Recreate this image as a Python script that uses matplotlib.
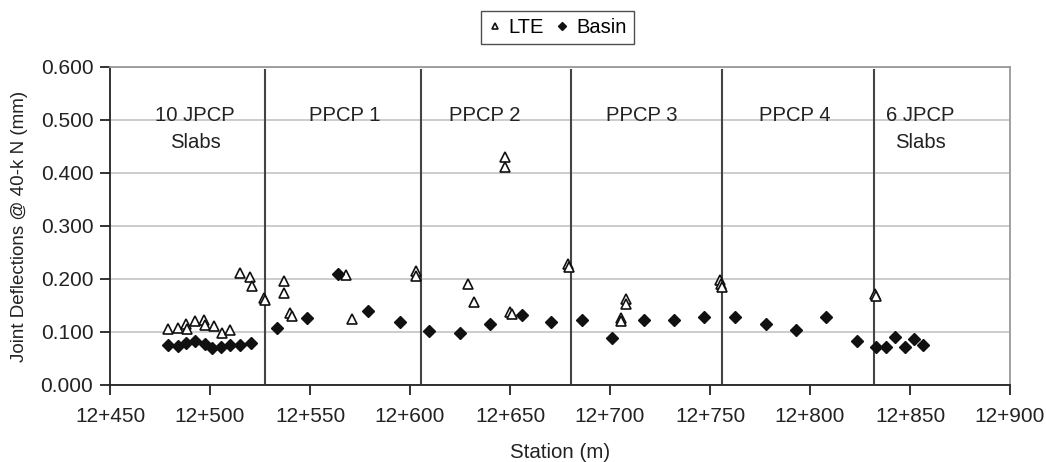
import matplotlib.pyplot as plt
import numpy as np

plt.rcParams['font.family'] = ['Liberation Sans', 'DejaVu Sans']

# LTE deflections (station offset in m past 12+000, mm)
lte_station = [479, 484, 488, 488.5, 492.5, 497, 497.5, 502, 506, 510,
               515, 520, 521, 527, 527.5, 537, 537, 540, 541, 568, 571,
               603, 603, 629, 632, 647.5, 647.5, 650, 651, 679, 679.5,
               705.5, 705.5, 708, 708, 755, 755.5, 756, 832.5, 833]
lte_value = [0.105, 0.107, 0.115, 0.105, 0.121, 0.123, 0.113, 0.111, 0.099, 0.104,
             0.211, 0.204, 0.186, 0.165, 0.160, 0.197, 0.173, 0.135, 0.130, 0.208, 0.125,
             0.216, 0.206, 0.191, 0.156, 0.431, 0.411, 0.137, 0.133, 0.228, 0.222,
             0.126, 0.120, 0.162, 0.153, 0.198, 0.190, 0.184, 0.172, 0.167]

# Basin deflections
basin_station = [479, 484, 488, 492.5, 497.5, 501, 505.5, 510, 515, 520.5,
                 533.5, 548.5, 564, 579, 595, 609.5, 625, 640, 656, 670.5,
                 686, 701, 717, 732, 747, 762.5, 778, 793, 808, 823.5,
                 833, 838, 842.5, 847.5, 852, 856.5]
basin_value = [0.075, 0.073, 0.080, 0.083, 0.077, 0.070, 0.072, 0.075, 0.075, 0.080,
               0.107, 0.126, 0.210, 0.140, 0.118, 0.102, 0.099, 0.116, 0.132, 0.118,
               0.123, 0.088, 0.123, 0.123, 0.128, 0.128, 0.115, 0.104, 0.128, 0.083,
               0.072, 0.072, 0.091, 0.072, 0.086, 0.075]

# section boundaries and labels
boundaries = [527.5, 605.5, 680.5, 756, 832]
section_labels = ['10 JPCP\nSlabs', 'PPCP 1', 'PPCP 2', 'PPCP 3', 'PPCP 4', '6 JPCP\nSlabs']
section_x = [492.5, 567.5, 637.5, 716, 792.5, 855]

x_ticks = [450, 500, 550, 600, 650, 700, 750, 800, 850, 900]
x_ticklabels = ['12+%d' % t for t in x_ticks]

fig = plt.figure(figsize=(10.46, 4.62), dpi=100)
ax = fig.add_axes([0.1052, 0.1667, 0.8604, 0.6883])

ax.set_xlim(450, 900)
ax.set_ylim(0, 0.6)
ax.set_yticks(np.arange(0, 0.61, 0.1))
ax.set_yticklabels(['%.3f' % v for v in np.arange(0, 0.61, 0.1)])
ax.set_xticks(x_ticks)
ax.set_xticklabels(x_ticklabels)

ax.grid(axis='y', color='#c8c8c8', linewidth=1.3, zorder=0)
ax.set_axisbelow(True)

for b in boundaries:
    ax.axvline(b, ymin=0.005, ymax=0.99, color='#444444', linewidth=1.5, zorder=1)

ax.plot(lte_station, lte_value, linestyle='none', marker='^', markersize=7.5,
        markerfacecolor='white', markeredgecolor='#111111', markeredgewidth=1.2,
        label='LTE', zorder=3)
ax.plot(basin_station, basin_value, linestyle='none', marker='D', markersize=6,
        color='#111111', label='Basin', zorder=3)

for lbl, sx in zip(section_labels, section_x):
    ax.text(sx, 0.527, lbl, ha='center', va='top', fontsize=14.6, color='#222222',
            linespacing=1.55)

for side in ['top', 'right']:
    ax.spines[side].set_color('#999999')
    ax.spines[side].set_linewidth(1.3)
for side in ['left', 'bottom']:
    ax.spines[side].set_color('#222222')
    ax.spines[side].set_linewidth(1.3)

ax.tick_params(axis='both', labelsize=15, length=7, width=1.3, color='#222222',
               labelcolor='#222222', direction='out')
ax.tick_params(axis='x', pad=9)
ax.tick_params(axis='y', pad=5)

ax.set_xlabel('Station (m)', fontsize=14.8, color='#222222', labelpad=12)
ax.set_ylabel('Joint Deflections @ 40-k N (mm)', fontsize=13.5, color='#222222',
              labelpad=9)

leg = fig.legend(loc='center', bbox_to_anchor=(0.533, 0.94), ncol=2, fontsize=14.5,
                 frameon=True, fancybox=False, edgecolor='#222222', markerscale=0.65,
                 handlelength=0.6, handletextpad=0.4, columnspacing=0.6,
                 borderpad=0.35)
leg.get_frame().set_linewidth(1.0)

fig.savefig('out.png', dpi=100)
